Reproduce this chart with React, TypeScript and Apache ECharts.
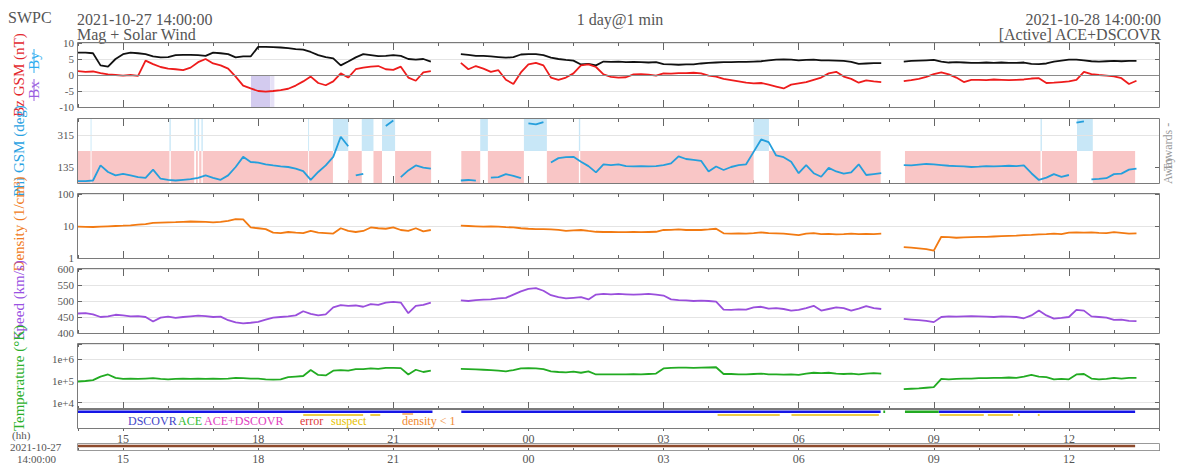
import React, { useEffect, useRef } from "react";
import * as echarts from "echarts";

// ---- time base: hours since 2021-10-27 00:00 ----
const START_HOUR = 14;
const END_HOUR = 38;
const STEP_H = 1 / 6; // 10-minute samples
const SEG_START = [0, 8.5, 18 + 1 / 3]; // 14:00, 22:30, 08:20 (offsets from 14:00)
const MAJOR_HOURS = [15, 18, 21, 24, 27, 30, 33, 36];

// ---- Bt (nT) ----
const btA = [7.0, 7.0, 6.8, 3.0, 2.6, 5.0, 6.5, 7.0, 6.8, 6.5, 5.8, 5.5, 5.6, 6.2, 6.3, 6.3, 6.2, 6.0, 7.0, 6.8, 6.5, 5.5, 5.8, 5.8, 8.8, 8.8, 8.7, 8.6, 8.4, 8.1, 7.9, 7.2, 6.2, 5.6, 5.2, 3.0, 4.2, 5.5, 6.5, 6.2, 5.9, 6.0, 6.2, 6.0, 5.0, 4.8, 5.0, 4.2];
const btB = [6.5, 6.3, 6.0, 6.0, 5.8, 5.6, 5.4, 5.6, 6.4, 6.5, 6.5, 6.2, 5.4, 5.0, 4.7, 4.5, 3.3, 3.5, 3.0, 4.2, 4.1, 4.2, 4.0, 4.1, 4.0, 3.9, 4.0, 3.4, 3.3, 3.2, 3.3, 3.3, 3.6, 3.8, 3.9, 4.0, 4.0, 4.1, 4.1, 4.2, 4.3, 4.6, 4.8, 4.9, 4.8, 4.6, 4.7, 4.8, 4.6, 4.6, 4.5, 4.4, 4.1, 3.5, 3.6, 3.7, 3.7];
const btC = [4.2, 4.4, 4.5, 4.6, 4.7, 4.2, 3.9, 4.0, 3.9, 3.8, 3.8, 3.9, 3.8, 3.9, 3.8, 3.8, 3.9, 3.5, 3.4, 3.6, 4.2, 4.5, 4.8, 4.8, 4.6, 4.3, 4.2, 4.3, 4.4, 4.3, 4.4, 4.4];

// ---- Bz GSM (nT) ----
const bzA = [1.2, 1.0, 1.1, 0.6, 0.2, 0.0, -0.2, 0.0, -0.3, 4.5, 3.4, 2.5, 2.0, 1.8, 1.5, 2.3, 4.0, 5.0, 3.6, 3.0, 2.0, -0.5, -3.3, -4.2, -5.0, -5.2, -5.0, -4.7, -4.3, -3.3, -2.0, -0.5, -2.5, -3.2, -2.0, 0.5, -0.8, 1.8, 2.3, 2.6, 2.8, 1.8, 1.6, 2.6, -0.8, -1.8, 0.8, 1.2];
const bzB = [3.8, 1.8, 2.8, 2.0, 1.0, 1.5, -1.5, -2.8, 0.8, 3.3, 3.8, 3.0, -0.8, -1.5, -0.8, 0.5, 3.0, 3.3, 2.5, 0.2, -0.6, -0.8, -0.7, 0.2, 0.3, 0.1, -0.2, 0.5, 0.4, 0.6, 0.6, 0.7, 0.5, -0.2, -0.5, -1.2, -1.6, -2.0, -2.4, -2.6, -2.5, -3.0, -3.6, -4.2, -3.0, -2.6, -2.2, -1.5, -0.8, 0.5, 1.0, -0.5, -1.2, -2.4, -1.7, -2.0, -2.2];
const bzC = [-1.9, -1.6, -1.2, -0.6, 0.3, 0.8, 0.2, -0.8, -2.2, -1.5, -1.5, -1.6, -1.4, -1.5, -1.6, -1.5, -1.4, -1.1, -1.0, -2.5, -2.4, -2.2, -2.0, -1.5, 1.0, 0.3, 0.0, -0.2, -0.4, -1.0, -2.8, -1.8];

// ---- Phi GSM (deg) ----
const phiA = [55, 55, 59, 144, 107, 88, 97, 88, 78, 74, 120, 69, 63, 59, 63, 67, 74, 88, 74, 63, 88, 135, 192, 163, 160, 150, 144, 139, 135, 126, 112, 63, 107, 144, 192, 305, 252, 88, 97, 324, 74, 366, 396, 78, 116, 144, 131, 126];
const phiB = [59, 62, 58, 398, 75, 78, 95, 85, 72, 380, 375, 388, 160, 185, 190, 192, 165, 140, 105, 150, 145, 150, 140, 138, 140, 138, 140, 145, 155, 195, 180, 175, 170, 110, 138, 118, 135, 145, 150, 220, 290, 275, 200, 190, 165, 100, 145, 100, 80, 130, 110, 98, 105, 150, 90, 95, 100];
const phiC = [145, 144, 148, 152, 150, 146, 142, 140, 138, 135, 137, 140, 138, 140, 142, 140, 144, 100, 62, 75, 95, 80, 90, 385, 392, 65, 68, 72, 95, 98, 120, 126];

// ---- Density (1/cm3) ----
const denA = [9.5, 9.4, 9.3, 9.6, 9.8, 10.0, 10.2, 10.5, 11.0, 11.5, 12.5, 12.8, 13.0, 13.2, 13.5, 13.8, 13.6, 13.4, 13.0, 13.5, 14.5, 16.5, 16.0, 9.0, 8.5, 8.0, 6.2, 6.0, 6.5, 6.2, 6.0, 7.0, 6.2, 6.0, 5.8, 8.5, 7.0, 6.5, 7.0, 9.0, 8.5, 8.2, 9.0, 7.5, 7.0, 8.5, 6.8, 7.5];
const denB = [10.2, 10.0, 9.8, 9.5, 9.8, 9.6, 9.2, 9.0, 8.5, 8.2, 8.0, 8.0, 7.8, 7.6, 7.0, 7.3, 7.5, 7.0, 6.6, 6.5, 6.5, 6.4, 6.4, 6.5, 6.4, 6.5, 6.6, 7.5, 7.6, 7.8, 7.5, 7.6, 7.5, 7.8, 8.2, 5.9, 5.8, 5.9, 5.8, 6.0, 6.3, 6.0, 5.9, 5.8, 5.5, 5.2, 5.8, 6.0, 5.6, 5.7, 5.5, 5.6, 5.8, 5.6, 5.7, 5.6, 5.8];
const denC = [2.2, 2.1, 2.0, 1.9, 1.7, 4.6, 4.5, 4.3, 4.4, 4.5, 4.6, 4.6, 4.7, 4.8, 4.9, 5.0, 5.2, 5.3, 5.5, 5.6, 5.8, 5.6, 6.2, 6.3, 6.2, 6.3, 6.1, 6.0, 6.4, 6.1, 5.8, 5.9];

// ---- Speed (km/s) ----
const spdA = [461, 462, 458, 450, 452, 457, 455, 452, 453, 450, 436, 448, 451, 447, 450, 452, 454, 453, 450, 451, 440, 433, 430, 432, 435, 442, 448, 450, 452, 455, 468, 460, 455, 458, 480, 487, 485, 486, 482, 490, 488, 495, 497, 495, 462, 485, 488, 495];
const spdB = [502, 500, 503, 504, 505, 508, 510, 520, 530, 538, 540, 532, 518, 512, 508, 510, 512, 505, 520, 522, 521, 522, 521, 520, 521, 522, 520, 517, 505, 503, 502, 500, 501, 500, 498, 473, 472, 474, 473, 480, 482, 476, 478, 475, 470, 472, 478, 485, 470, 475, 480, 478, 470, 476, 484, 478, 475];
const spdC = [444, 442, 440, 438, 434, 450, 452, 451, 452, 453, 452, 451, 450, 452, 451, 450, 446, 455, 470, 455, 445, 447, 450, 472, 470, 452, 450, 448, 441, 442, 438, 437];

// ---- Temperature (K) ----
const tmpA = [9.5e4, 1.0e5, 1.1e5, 1.6e5, 2.0e5, 1.4e5, 1.25e5, 1.3e5, 1.25e5, 1.3e5, 1.35e5, 1.25e5, 1.2e5, 1.25e5, 1.3e5, 1.25e5, 1.3e5, 1.25e5, 1.3e5, 1.25e5, 1.3e5, 1.4e5, 1.35e5, 1.3e5, 1.3e5, 1.2e5, 1.15e5, 1.2e5, 1.5e5, 1.6e5, 1.7e5, 3.2e5, 1.9e5, 1.8e5, 3.0e5, 3.2e5, 3.0e5, 3.5e5, 3.5e5, 3.8e5, 3.6e5, 4.0e5, 4.0e5, 3.9e5, 2.0e5, 3.3e5, 2.6e5, 3.0e5];
const tmpB = [3.6e5, 3.5e5, 3.4e5, 3.3e5, 3.2e5, 3.0e5, 2.8e5, 3.2e5, 3.8e5, 3.9e5, 3.8e5, 3.5e5, 2.8e5, 2.6e5, 2.5e5, 2.7e5, 2.4e5, 2.8e5, 2.0e5, 2.0e5, 2.0e5, 2.0e5, 2.0e5, 2.05e5, 2.0e5, 2.1e5, 2.2e5, 3.8e5, 4.0e5, 4.1e5, 4.1e5, 4.0e5, 4.1e5, 4.2e5, 4.3e5, 2.1e5, 2.1e5, 2.0e5, 2.0e5, 2.1e5, 2.2e5, 2.0e5, 2.0e5, 1.95e5, 2.0e5, 1.9e5, 2.2e5, 2.4e5, 2.3e5, 2.4e5, 2.2e5, 2.1e5, 2.2e5, 2.0e5, 2.2e5, 2.3e5, 2.2e5];
const tmpC = [4.2e4, 4.4e4, 4.6e4, 4.9e4, 5.2e4, 1.25e5, 1.2e5, 1.25e5, 1.3e5, 1.3e5, 1.35e5, 1.35e5, 1.4e5, 1.4e5, 1.45e5, 1.4e5, 1.6e5, 1.9e5, 1.6e5, 1.5e5, 1.2e5, 1.25e5, 1.2e5, 2.0e5, 2.1e5, 1.3e5, 1.2e5, 1.25e5, 1.4e5, 1.3e5, 1.4e5, 1.4e5];

// ---- IMF sector (offset hours from 14:00): T = towards, A = away ----
const SECTORS: [number, number, string][] = [
  [0, 0.28, "T"], [0.28, 0.3, "A"], [0.3, 2.03, "T"], [2.03, 2.06, "A"], [2.06, 2.58, "T"], [2.58, 2.62, "A"],
  [2.62, 2.66, "T"], [2.66, 2.69, "A"], [2.69, 2.74, "T"], [2.74, 2.77, "A"], [2.77, 5.11, "T"], [5.11, 5.13, "A"],
  [5.13, 5.66, "T"], [5.66, 6.0, "A"], [6.0, 6.3, "T"], [6.3, 6.56, "A"], [6.56, 6.75, "T"], [6.75, 7.04, "A"],
  [7.04, 7.84, "T"], [8.51, 8.93, "T"], [8.93, 9.1, "A"], [9.1, 9.9, "T"], [9.9, 10.41, "A"], [10.41, 11.12, "T"],
  [11.12, 11.15, "A"], [11.15, 15.0, "T"], [15.0, 15.34, "A"], [15.34, 17.82, "T"], [18.36, 21.37, "T"],
  [21.37, 21.4, "A"], [21.4, 22.18, "T"], [22.18, 22.53, "A"], [22.53, 23.47, "T"],
];
const BZ_SOUTH = [[3.84, 4.27], [4.27, 4.36]];

// ---- data source / quality flags (offset hours) ----
const SRC_DSCOVR = [[0, 7.87], [8.51, 17.82], [19.11, 23.47]];
const SRC_ACE = [[17.88, 17.92], [18.36, 19.11]];
const FLAG_SUSPECT = [[5.0, 6.33], [6.49, 6.71], [14.2, 15.58], [15.84, 17.78], [19.13, 20.11], [20.2, 20.76], [20.87, 20.91], [21.31, 21.35]];
const FLAG_LOWDEN = [[7.2, 7.44]];
const STRIP = [[0, 23.47]];

// ---- layout ----
const FONT = '"Liberation Serif", "Times New Roman", Times, serif';
const GRAY = "#555";
const L = 78;
const R = 18;
const W = 1177 - L - R;
const PANELS = [
  { top: 43, height: 64 },
  { top: 119, height: 64 },
  { top: 194, height: 64 },
  { top: 269, height: 64 },
  { top: 344, height: 65 },
  { top: 409, height: 19 },
  { top: 444, height: 6 },
];

const hourLabel = (v: number) => String(((Math.round(v) % 24) + 24) % 24).padStart(2, "0");

function seg(i: number, vals: number[]) {
  return vals.map((v, k) => [START_HOUR + SEG_START[i] + k * STEP_H, v]);
}
function joined(a: number[], b: number[], c: number[]) {
  return [...seg(0, a), [START_HOUR + 8.2, null], ...seg(1, b), [START_HOUR + 18.1, null], ...seg(2, c)];
}
function breakJumps(d: any[]) {
  const out: any[] = [];
  d.forEach((p, i) => {
    const q = d[i - 1];
    if (q && p[1] != null && q[1] != null && Math.abs(p[1] - q[1]) > 150) out.push([(p[0] + q[0]) / 2, null]);
    out.push(p);
  });
  return out;
}
function segLine(segs: number[][], v: number) {
  const out: any[] = [];
  segs.forEach(([s, e]) => {
    out.push([START_HOUR + s, v], [START_HOUR + e, v], [START_HOUR + e + 0.001, null]);
  });
  return out;
}

function buildOption() {
  const grid = PANELS.map((p) => ({ left: L, right: R, top: p.top, height: p.height, show: false }));

  const xAxis: any[] = [];
  const bindX: number[] = [];
  const xlab = (show: boolean, margin: number) => ({
    show, color: GRAY, fontFamily: FONT, fontSize: 12, margin,
    formatter: (v: number) => (Math.round(v) % 3 === 0 ? hourLabel(v) : ""),
  });
  const tick = (inside: boolean, length: number, custom?: number[]) => {
    const t: any = { show: true, inside, length, lineStyle: { color: "#666", width: 1 } };
    if (custom) t.customValues = custom;
    return t;
  };
  const addX = (g: number, position: string, ticks: any, label: any, major: boolean) => {
    const ax: any = {
      type: "value", gridIndex: g, position, min: START_HOUR, max: END_HOUR,
      axisLine: { show: false, onZero: false }, splitLine: { show: false },
      axisTick: ticks, axisLabel: label,
    };
    if (!major) ax.interval = 1;
    xAxis.push(ax);
    return xAxis.length - 1;
  };
  for (let g = 0; g < 5; g++) {
    bindX[g] = addX(g, "bottom", tick(true, 3), xlab(false, 0), false);
    addX(g, "bottom", tick(true, 7, MAJOR_HOURS), xlab(false, 0), true);
    addX(g, "top", tick(true, 3), xlab(false, 0), false);
    addX(g, "top", tick(true, 7, MAJOR_HOURS), xlab(false, 0), true);
  }
  bindX[5] = addX(5, "bottom", tick(false, 3), xlab(true, 5), false);
  bindX[6] = addX(6, "bottom", tick(false, 3), xlab(true, 5), false);

  const faint = { show: true, lineStyle: { color: "#e4e4e4", width: 1 } };
  const tempFmt = (v: number) => {
    const e = Math.log10(v);
    const r = Math.round(e);
    return Math.abs(e - r) < 0.02 && r >= 4 && r <= 6 ? "1e+" + r : "";
  };
  const yDefs: any[] = [
    { type: "value", min: -10, max: 10, interval: 5, splitLine: faint },
    { type: "value", min: 45, max: 405, custom: [135, 315], splitLine: { show: false } },
    { type: "log", logBase: 10, min: 1, max: 100, splitLine: faint },
    { type: "value", min: 400, max: 600, interval: 50, splitLine: faint },
    { type: "log", logBase: 10, min: 5130, max: 5.07e6, splitLine: faint, formatter: tempFmt },
  ];
  const yAxis: any[] = [];
  const bindY: number[] = [];
  yDefs.forEach((d, g) => {
    const base: any = { type: d.type, gridIndex: g, min: d.min, max: d.max, axisLine: { show: false, onZero: false } };
    if (d.interval) base.interval = d.interval;
    if (d.logBase) base.logBase = d.logBase;
    const label: any = { show: true, color: GRAY, fontFamily: FONT, fontSize: 11, margin: 4 };
    if (d.custom) label.customValues = d.custom;
    if (d.formatter) label.formatter = d.formatter;
    yAxis.push({ ...base, position: "left", axisTick: tick(true, 4, d.custom), axisLabel: label, splitLine: d.splitLine });
    bindY[g] = yAxis.length - 1;
    yAxis.push({ ...base, position: "right", axisTick: tick(true, 4, d.custom), axisLabel: { show: false }, splitLine: { show: false } });
  });
  for (let g = 5; g < 7; g++) {
    yAxis.push({ type: "value", gridIndex: g, min: 0, max: 1, show: false });
    bindY[g] = yAxis.length - 1;
  }

  const line = (g: number, data: any[], color: string, width = 1.8, extra: any = {}) => ({
    type: "line", xAxisIndex: bindX[g], yAxisIndex: bindY[g], data,
    symbol: "none", showSymbol: false, connectNulls: false, silent: true,
    lineStyle: { color, width }, itemStyle: { color }, z: 3, ...extra,
  });

  const PINK = "#f9c6c6";
  const LBLUE = "#c8e7f7";

  const series: any[] = [
    line(0, joined(btA, btB, btC), "#111111", 1.8),
    line(0, joined(bzA, bzB, bzC), "#ee1c1c", 1.8, {
      markArea: {
        silent: true, label: { show: false },
        data: BZ_SOUTH.map(([s, e], i) => [
          { xAxis: START_HOUR + s, yAxis: 0, itemStyle: { color: i === 0 ? "#d3cbef" : "#e6e1f6" } },
          { xAxis: START_HOUR + e, yAxis: -10 },
        ]),
      },
      markLine: {
        silent: true, symbol: ["none", "none"], label: { show: false },
        lineStyle: { color: "#8a8a8a", width: 1, type: "solid" }, data: [{ yAxis: 0 }],
      },
    }),
    line(1, breakJumps(joined(phiA, phiB, phiC)), "#259fdc", 1.8, {
      markArea: {
        silent: true, label: { show: false },
        data: SECTORS.map(([s, e, t]) => [
          { xAxis: START_HOUR + s, yAxis: t === "T" ? 45 : 225, itemStyle: { color: t === "T" ? PINK : LBLUE } },
          { xAxis: START_HOUR + e, yAxis: t === "T" ? 225 : 405 },
        ]),
      },
      markLine: {
        silent: true, symbol: ["none", "none"], label: { show: false },
        lineStyle: { color: "#e4e4e4", width: 1, type: "solid" }, data: [{ yAxis: 315 }],
      },
    }),
    line(2, joined(denA, denB, denC), "#f27a12", 1.8),
    line(3, joined(spdA, spdB, spdC), "#9a4fdc", 1.8),
    line(4, joined(tmpA, tmpB, tmpC), "#22ab22", 1.8),
    line(5, segLine(SRC_DSCOVR, 0.858), "#1515e6", 2.5),
    line(5, segLine(SRC_ACE, 0.858), "#22aa22", 2.5),
    line(5, segLine(FLAG_SUSPECT, 0.684), "#e8c228", 2, { lineStyle: { color: "#e8c228", width: 2, opacity: 0.85 } }),
    line(5, segLine(FLAG_LOWDEN, 0.74), "#f0a050", 1.5),
    line(6, segLine(STRIP, 0.5), "#8d4a2c", 2.5),
  ];

  const txt = (text: string, x: number, y: number, fill: string, size: number, align = "left", rot = 0) => ({
    type: "text", x, y, rotation: rot, silent: true, z: 50,
    style: { text, fill, font: `${size}px ${FONT}`, align, verticalAlign: "middle", textAlign: align, textVerticalAlign: "middle" },
  });
  const vline = (x: number, y1: number, y2: number, stroke: string) => ({
    type: "line", silent: true, z: 51, shape: { x1: x, y1, x2: x, y2 }, style: { stroke, lineWidth: 1 },
  });
  const ROT = Math.PI / 2;
  const elements: any[] = [
    txt("SWPC", 8, 17, GRAY, 16),
    txt("2021-10-27 14:00:00", 77, 19, GRAY, 16),
    txt("Mag + Solar Wind", 77, 34, GRAY, 16),
    txt("1 day@1 min", 620, 19, GRAY, 16, "center"),
    txt("2021-10-28 14:00:00", 1161, 19, GRAY, 16, "right"),
    txt("[Active] ACE+DSCOVR", 1161, 34, GRAY, 16, "right"),

    txt("Bz GSM (nT)", 19, 75, "#e3282e", 15, "center", ROT),
    txt("Bx", 34, 90, "#9a5fe0", 15, "center", ROT),
    vline(34, 79, 101, "#9a5fe0"),
    txt("By", 34, 61, "#30aef0", 15, "center", ROT),
    vline(34, 49, 73, "#30aef0"),
    txt("Phi GSM (deg)", 19, 151, "#2aa2e2", 15, "center", ROT),
    txt("Density (1/cm³)", 19, 224, "#f07a20", 15, "center", ROT),
    txt("Speed (km/s)", 19, 300, "#9a52e2", 15, "center", ROT),
    txt("Temperature (°K)", 19, 378, "#2cb02c", 15, "center", ROT),

    txt("Away", 1168, 184, "#999", 12, "left", ROT),
    txt("Towards -", 1168, 171, "#999", 12, "left", ROT),

    txt("DSCOVR", 128, 421, "#4646c8", 12),
    txt("ACE", 178, 421, "#33bb33", 12),
    txt("ACE+DSCOVR", 204, 421, "#e040c0", 12),
    txt("error", 300, 421, "#e03a3a", 12),
    txt("suspect", 331, 421, "#e6c000", 12),
    txt("density < 1", 402, 421, "#f08a30", 12),

    txt("(hh)", 12, 435, GRAY, 11),
    txt("2021-10-27", 10, 447, GRAY, 11),
    txt("14:00:00", 17, 459, GRAY, 11),
  ];
  PANELS.forEach((p, i) => {
    elements.push({
      type: "rect", silent: true, z: 60,
      shape: { x: L - 0.5, y: p.top - 0.5, width: W + 1, height: p.height + 1 },
      style: { fill: "none", stroke: i === 6 ? "#999" : "#7a7a7a", lineWidth: 1 },
    });
  });

  return {
    animation: false,
    backgroundColor: "#ffffff",
    grid, xAxis, yAxis, series,
    graphic: { elements },
  };
}

export default function App() {
  const ref = useRef<HTMLDivElement>(null);
  useEffect(() => {
    if (!ref.current) return;
    const chart = echarts.init(ref.current, null, { renderer: "svg" });
    chart.setOption(buildOption() as any);
    return () => chart.dispose();
  }, []);
  return <div ref={ref} style={{ position: "absolute", left: 0, top: 0, width: 1177, height: 465, background: "#fff" }} />;
}
